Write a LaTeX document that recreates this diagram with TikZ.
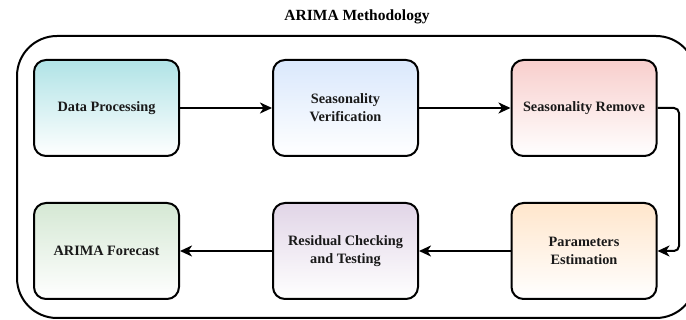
\documentclass[tikz,border=0pt]{standalone}
\usepackage{fontspec}
\setmainfont{Liberation Serif}
\usetikzlibrary{arrows.meta}
\definecolor{cteal}{HTML}{B0E3E6}
\definecolor{cblue}{HTML}{DAE8FC}
\definecolor{cred}{HTML}{F8CECC}
\definecolor{corange}{HTML}{FFE6CC}
\definecolor{cpurple}{HTML}{E1D5E7}
\definecolor{cgreen}{HTML}{D5E8D4}
\tikzset{
  stepbox/.style={draw=black, line width=2pt, rounded corners=12pt,
    minimum width=145pt, minimum height=96pt, align=center,
    font=\fontsize{14.3}{18}\selectfont\bfseries, text=black!90, bottom color=white},
  flow/.style={line width=2pt, -{Stealth[length=12pt,width=11pt,inset=3.5pt]}},
}
\begin{document}
\begin{tikzpicture}[x=1pt,y=-1pt]
\useasboundingbox (0,0) rectangle (686,320);
\begin{scope}
\clip (0,0) rectangle (686,320);
\draw[line width=2pt, rounded corners=40pt] (17,36) rectangle (696,318);
\end{scope}
\node[font=\fontsize{15.5}{18}\selectfont\bfseries] (title) at (357,17) {ARIMA Methodology};
\node[stepbox, top color=cteal] (dp) at (106.5,108) {Data Processing};
\node[stepbox, top color=cblue] (sv) at (345.5,108) {Seasonality\\Verification};
\node[stepbox, top color=cred] (sr) at (584,108) {Seasonality Remove};
\node[stepbox, top color=corange] (pe) at (584,251) {Parameters\\Estimation};
\node[stepbox, top color=cpurple] (rc) at (345.5,251) {Residual Checking\\and Testing};
\node[stepbox, top color=cgreen] (af) at (106.5,251) {ARIMA Forecast};
\coordinate (turn) at (679,0);
\draw[flow] (dp) -- (sv);
\draw[flow] (sv) -- (sr);
\draw[flow, rounded corners=5pt] (sr.east) -- (sr.east -| turn) -- (pe.east -| turn) -- (pe.east);
\draw[flow] (pe) -- (rc);
\draw[flow] (rc) -- (af);
\end{tikzpicture}
\end{document}
